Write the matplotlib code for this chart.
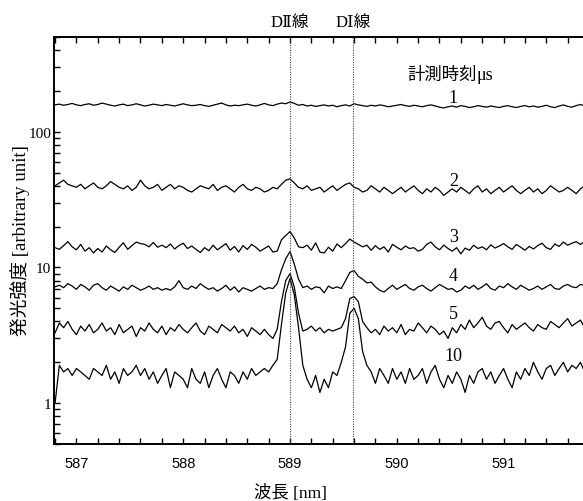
import numpy as np
import matplotlib.pyplot as plt
from matplotlib.ticker import MultipleLocator, LogLocator, NullFormatter, FixedLocator

# ===== DATA ===== #
wavelength = np.linspace(586.8, 591.8, 126)   # nm, spectrometer grid
d_lines = [589.00, 589.59]                    # D2, D1
d_names = ["DⅡ線", "DⅠ線"]
times = ["1", "2", "3", "4", "5", "10"]       # measurement time (us)

c1 = [158, 160, 157, 159, 162, 158, 156, 159, 161, 157,
      159, 163, 160, 157, 155, 158, 160, 156, 158, 161,
      158, 155, 157, 160, 158, 156, 159, 157, 155, 158,
      161, 158, 156, 157, 159, 156, 154, 157, 160, 163,
      158, 155, 157, 156, 158, 160, 157, 155, 158, 162,
      158, 156, 160, 163, 161, 166, 162, 157, 159, 155,
      157, 154, 156, 158, 155, 157, 153, 156, 158, 155,
      161, 158, 156, 154, 157, 155, 158, 156, 153, 155,
      157, 159, 156, 154, 157, 155, 153, 156, 158, 155,
      152, 150, 153, 155, 152, 156, 154, 151, 153, 156,
      154, 152, 155, 153, 151, 154, 156, 153, 151, 154,
      156, 153, 155, 152, 154, 157, 153, 151, 155, 158,
      154, 152, 156, 159, 155, 153]
c2 = [40, 42, 44, 41, 40, 39, 41, 38, 40, 42,
      39, 38, 40, 43, 41, 39, 38, 40, 37, 39,
      44, 40, 38, 39, 41, 37, 39, 41, 38, 40,
      39, 37, 36, 38, 40, 39, 38, 41, 37, 39,
      40, 38, 36, 39, 41, 38, 37, 39, 38, 36,
      37, 39, 38, 41, 44, 45, 42, 39, 38, 40,
      37, 38, 39, 36, 38, 40, 37, 39, 41, 42,
      39, 38, 36, 37, 40, 38, 36, 39, 37, 35,
      37, 39, 36, 38, 40, 37, 35, 38, 36, 39,
      37, 34, 36, 38, 36, 39, 37, 35, 38, 40,
      36, 38, 35, 37, 39, 36, 38, 40, 37, 35,
      37, 39, 36, 38, 35, 37, 40, 38, 36, 37,
      39, 37, 35, 38, 40, 37]
c3 = [14.0, 13.6, 14.5, 15.5, 14.2, 13.5, 14.8, 13.2, 14.0, 12.8,
      13.8, 13.0, 14.4, 13.5, 12.9, 14.1, 15.2, 13.6, 14.5, 15.4,
      15.0, 14.8, 14.2, 15.3, 14.1, 14.6, 14.0, 14.9, 13.7, 14.5,
      15.1, 13.8, 14.4, 13.6, 12.9, 14.0, 13.3, 14.6, 13.5, 14.2,
      15.0, 13.4, 14.3, 13.0, 14.5, 13.6, 14.8, 14.1, 13.2, 13.8,
      14.4, 13.0, 13.2, 16.0, 17.2, 18.4, 16.5, 14.2, 14.0, 14.6,
      13.4, 15.2, 13.0, 12.8, 14.1, 13.2, 14.9, 14.0, 15.0, 16.2,
      15.4, 14.8, 14.2, 14.6, 13.4, 14.5, 13.6, 14.2, 13.0, 14.8,
      14.1, 13.5, 14.4, 13.8, 14.0, 13.2, 13.6, 14.8, 15.4, 14.2,
      13.5, 14.6, 13.8, 13.2, 14.0, 12.6, 13.9, 13.4, 14.6, 13.8,
      14.2, 13.5, 14.7, 13.9, 14.4, 15.0, 14.2, 13.6, 14.8, 14.1,
      13.4, 14.3, 13.7, 14.5, 15.1, 14.0, 13.6, 14.9, 14.3, 15.4,
      14.6, 15.1, 15.5, 14.8, 15.6, 14.2]
c4 = [7.2, 7.4, 7.1, 7.6, 7.3, 6.9, 7.5, 7.2, 6.8, 7.4,
      7.6, 7.1, 6.8, 7.3, 7.0, 6.7, 7.2, 6.9, 7.4, 7.1,
      6.8, 7.0, 7.3, 6.9, 7.1, 6.8, 7.0, 6.8, 7.2, 8.0,
      7.1, 6.9, 7.3, 7.0, 7.6, 7.2, 6.9, 7.1, 6.7, 7.0,
      7.4, 6.8, 7.2, 6.6, 7.1, 6.9, 6.7, 7.0, 7.3, 6.9,
      7.1, 7.0, 7.6, 9.6, 11.6, 13.1, 10.6, 8.2, 7.1, 7.3,
      6.9, 7.2, 7.1, 6.5, 7.3, 7.0, 7.2, 7.0, 8.0, 9.2,
      9.5, 8.6, 8.2, 7.7, 7.8, 7.2, 6.8, 6.6, 7.0, 7.4,
      6.9, 7.2, 7.5, 7.0, 6.8, 7.2, 7.4, 7.0, 6.7, 7.1,
      7.5, 7.2, 6.9, 7.0, 6.6, 6.8, 7.3, 7.0, 7.4, 6.9,
      7.2, 7.6, 7.0, 6.8, 7.3, 7.1, 7.6, 7.2, 6.9, 7.4,
      7.1, 6.8, 7.0, 7.3, 6.9, 7.2, 7.5, 7.0, 6.9, 7.3,
      7.5, 7.2, 7.1, 7.5, 7.4, 7.1]
c5 = [3.3, 3.9, 3.6, 4.0, 3.5, 3.2, 3.7, 3.4, 3.8, 3.3,
      3.5, 3.9, 3.4, 3.6, 3.2, 3.8, 3.3, 3.5, 3.7, 3.1,
      3.6, 3.4, 3.9, 3.5, 3.3, 3.7, 3.2, 3.6, 3.4, 3.8,
      3.5, 3.3, 3.6, 3.9, 3.4, 3.2, 3.7, 3.5, 3.3, 3.8,
      3.6, 3.4, 3.7, 3.3, 3.5, 3.1, 3.6, 3.4, 3.2, 3.5,
      3.2, 3.0, 3.5, 5.6, 8.0, 9.0, 7.2, 4.6, 3.4, 3.5,
      3.7, 3.4, 3.6, 3.3, 3.5, 3.4, 3.5, 3.6, 4.2, 5.9,
      6.1, 5.6, 4.0, 3.6, 3.3, 3.5, 3.2, 3.7, 3.4, 3.6,
      3.3, 3.8, 3.2, 3.5, 3.4, 3.9, 3.6, 3.3, 3.7, 3.5,
      3.2, 3.4, 3.0, 3.6, 3.3, 3.8, 3.5, 4.1, 3.6, 3.9,
      4.3, 3.7, 3.5, 3.9, 4.0, 3.6, 3.3, 3.8, 3.5, 3.7,
      3.9, 3.6, 3.4, 3.8, 3.6, 3.5, 4.0, 3.8, 3.6, 3.9,
      4.2, 3.7, 3.9, 4.1, 3.6, 3.8]
c10 = [1.0, 1.9, 1.7, 1.8, 1.6, 1.8, 1.7, 1.6, 1.5, 1.8,
       1.7, 1.6, 1.9, 1.5, 1.7, 1.4, 1.8, 1.6, 1.7, 1.9,
       1.6, 1.8, 1.5, 1.7, 1.4, 1.6, 1.8, 1.3, 1.7, 1.6,
       1.5, 1.3, 1.8, 1.5, 1.4, 1.7, 1.3, 1.6, 1.8, 1.5,
       1.3, 1.7, 1.6, 1.4, 1.7, 1.5, 1.8, 1.6, 1.7, 1.8,
       1.7, 1.9, 2.1, 3.8, 6.5, 8.3, 6.3, 3.6, 1.9, 1.5,
       1.3, 1.6, 1.2, 1.5, 1.3, 1.7, 1.6, 2.0, 2.6, 4.6,
       5.0, 4.2, 2.4, 1.9, 1.7, 1.4, 1.8, 1.6, 1.4, 1.8,
       1.5, 1.7, 1.4, 1.8, 1.5, 1.6, 1.8, 1.4, 1.7, 1.9,
       1.5, 1.3, 1.6, 1.4, 1.7, 1.5, 1.2, 1.6, 1.4, 1.7,
       1.8, 1.5, 1.7, 1.4, 1.6, 1.8, 1.5, 1.3, 1.7, 1.5,
       1.8, 1.6, 2.0, 1.7, 1.5, 1.8, 1.9, 1.6, 1.8, 2.0,
       1.7, 1.9, 1.8, 2.0, 1.7, 1.9]
curves = [c1, c2, c3, c4, c5, c10]
label_y = [178, 44, 17.0, 8.7, 4.6, 2.25]     # where the time labels sit

# ===== PLOT ===== #
serif = ["Liberation Serif", "DejaVu Serif", "Noto Sans CJK JP"]
cjk = ["Noto Sans CJK JP", "Liberation Serif"]

fig = plt.figure(figsize=(5.83, 5.02), dpi=100)
ax = fig.add_axes([54 / 583, 57 / 502, 535 / 583, 407 / 502])

for y in curves:
    ax.plot(wavelength, y, color="black", lw=0.9)

for xl, name in zip(d_lines, d_names):
    ax.axvline(xl, color="#444444", lw=0.8, ls=(0, (1, 1.2)))
    ax.text(xl, 1.018, name, transform=ax.get_xaxis_transform(),
            ha="center", va="bottom", fontsize=12, family=serif)

for t, ly in zip(times, label_y):
    ax.text(590.53, ly, t, ha="center", va="center", fontsize=13,
            family="Liberation Serif")
ax.text(590.75, 265, "計測時刻", ha="right", va="center", fontsize=12.5,
        family=cjk)
ax.text(590.75, 265, "μs", ha="left", va="center", fontsize=13,
        family="Liberation Serif")

ax.set_yscale("log")
ax.set_xlim(586.79, 591.8)
ax.set_ylim(0.5, 500)

ax.xaxis.set_major_locator(FixedLocator([587, 588, 589, 590, 591]))
ax.xaxis.set_minor_locator(MultipleLocator(0.2))
ax.yaxis.set_minor_locator(LogLocator(base=10, subs=np.arange(2, 10)))
ax.yaxis.set_minor_formatter(NullFormatter())
ax.set_yticks([1, 10, 100], ["1", "10", "100"])
for lab in ax.get_yticklabels():
    lab.set_family("Liberation Serif")
    lab.set_fontsize(11)
for lab in ax.get_xticklabels():
    lab.set_family("Liberation Sans")
    lab.set_fontsize(10.5)

ax.tick_params(which="both", direction="in", top=True, right=False,
               width=1.0, length=4, pad=9)
ax.tick_params(axis="y", which="both", pad=2)
for s in ax.spines.values():
    s.set_linewidth(1.4)

fig.text(20 / 583, 0.52, "発光強度 [arbitrary unit]", rotation=90,
         ha="center", va="center", fontsize=13.5, family=serif)
fig.text(290 / 583, 1 - 494 / 502, "波長 [nm]", ha="center", va="center",
         fontsize=12.5, family=serif)

fig.savefig("out.png", dpi=100)
